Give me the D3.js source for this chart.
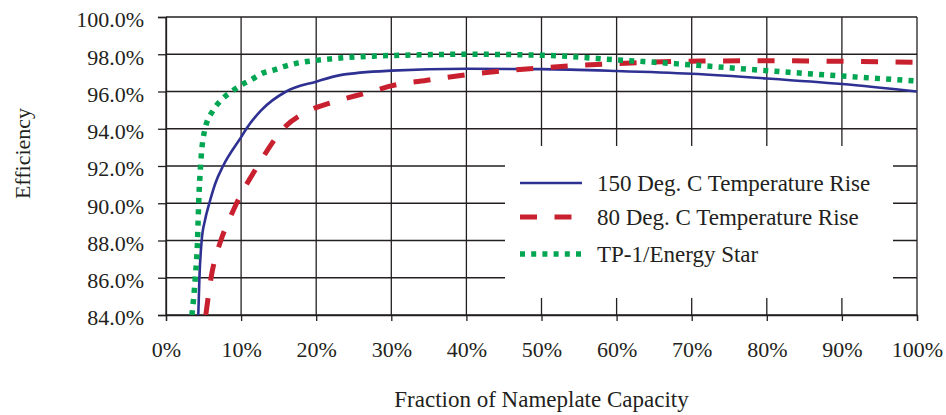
<!DOCTYPE html>
<html lang="en">
<head>
<meta charset="utf-8">
<script src="https://cdn.jsdelivr.net/npm/d3@7"></script>
<style>
  body { margin: 0; background: #fff; }
  svg { display: block; }
  text { font-family: "Liberation Serif", "Times New Roman", serif; fill: #231f20; }
</style>
</head>
<body>
<svg id="chart"></svg>
<script>
  var width = 946, height = 415;
  var margin = {top: 17, right: 29, bottom: 100, left: 166};

  // x values: fraction of nameplate capacity (%), y values: efficiency (%)
  var xTicks = [0, 10, 20, 30, 40, 50, 60, 70, 80, 90, 100];
  var yTicks = [84, 86, 88, 90, 92, 94, 96, 98, 100];
  var seriesNames = ["150 Deg. C Temperature Rise", "80 Deg. C Temperature Rise", "TP-1/Energy Star"];

  var rise150 = [
    [4.3, 84.0], [4.45, 86.0], [4.75, 88.0], [5.2, 89.1], [5.77, 90.0], [6.6, 91.1],
    [7.6, 92.0], [10, 93.55], [10.7, 94.0], [12.7, 95.0], [16, 96.0], [20, 96.53],
    [23.2, 96.88], [30, 97.12], [40, 97.22], [50, 97.2], [60, 97.1], [70, 96.95],
    [80, 96.7], [90, 96.4], [100, 96.0]
  ];
  var rise80 = [
    [5.3, 84.0], [6.0, 86.0], [7.3, 88.0], [8.4, 89.1], [9.4, 90.0], [12.2, 92.0],
    [15.6, 94.0], [19.2, 95.0], [22, 95.4], [27.4, 96.0], [30, 96.3], [35, 96.62],
    [40, 96.9], [50, 97.27], [60, 97.5], [70, 97.63], [80, 97.65], [90, 97.62], [100, 97.57]
  ];
  var tp1 = [
    [3.45, 84.0], [3.9, 86.0], [4.2, 88.0], [4.35, 90.0], [4.6, 92.0], [5.2, 94.0],
    [6.3, 95.0], [7.5, 95.6], [8.75, 96.0], [10, 96.35], [11.2, 96.6], [12.96, 97.0],
    [14.3, 97.15], [15.6, 97.33], [17.2, 97.5], [20, 97.67], [23.2, 97.8], [27.8, 97.9],
    [33.8, 97.97], [40, 98.0], [50, 97.95], [60, 97.7], [70, 97.43], [80, 97.12],
    [90, 96.83], [100, 96.56]
  ];

  var styles = [
    {color: '#2e3192', width: 2.6, dash: null},
    {color: '#c9202f', width: 5, dash: '17,17.5'},
    {color: '#00a651', width: 5.5, dash: '5,6.2'}
  ];
  var allSeries = [rise150, rise80, tp1];

  var svg = d3.select('#chart').attr('width', width).attr('height', height);

  var x = d3.scaleLinear().domain([0, 100]).range([margin.left, width - margin.right]);
  var y = d3.scaleLinear().domain([84, 100]).range([315, margin.top]);

  var gridColor = '#231f20';

  // gridlines
  svg.append('g').selectAll('line.h')
    .data(yTicks).enter()
    .append('line')
    .attr('x1', x(0)).attr('x2', x(100))
    .attr('y1', function(d){ return y(d); })
    .attr('y2', function(d){ return y(d); })
    .attr('stroke', gridColor).attr('stroke-width', 1.3);

  svg.append('g').selectAll('line.v')
    .data(xTicks).enter()
    .append('line')
    .attr('x1', function(d){ return x(d); })
    .attr('x2', function(d){ return x(d); })
    .attr('y1', y(100)).attr('y2', y(84))
    .attr('stroke', gridColor).attr('stroke-width', 1.3);

  // axes
  var yAxis = svg.append('g')
    .attr('transform', 'translate(' + x(0) + ',0)')
    .call(d3.axisLeft(y).tickValues(yTicks).tickSize(8).tickPadding(14)
      .tickFormat(function(d){ return d.toFixed(1) + '%'; }));
  yAxis.selectAll('text').attr('dy', '0.45em');

  var xAxis = svg.append('g')
    .attr('transform', 'translate(0,' + y(84) + ')')
    .call(d3.axisBottom(x).tickValues(xTicks).tickSize(6).tickPadding(20)
      .tickFormat(function(d){ return d + '%'; }));

  svg.selectAll('.domain').attr('stroke', gridColor).attr('stroke-width', 1.3);
  svg.selectAll('.tick line').attr('stroke', gridColor).attr('stroke-width', 1.3);
  svg.selectAll('.tick text')
    .style('font-family', '"Liberation Serif", "Times New Roman", serif')
    .style('font-size', '22px').attr('fill', '#231f20');

  // legend box (white, covers gridlines)
  var legend = svg.append('g');
  legend.append('rect')
    .attr('x', 505).attr('y', 146)
    .attr('width', 388).attr('height', 152)
    .attr('fill', '#fff');

  // curves
  svg.append('clipPath').attr('id', 'clip')
    .append('rect')
    .attr('x', x(0)).attr('y', y(100) - 10)
    .attr('width', x(100) - x(0) + 10).attr('height', y(84) - y(100) + 10);

  var line = d3.line()
    .x(function(d){ return x(d[0]); })
    .y(function(d){ return y(d[1]); })
    .curve(d3.curveMonotoneX);

  svg.append('g').attr('clip-path', 'url(#clip)')
    .selectAll('path')
    .data(allSeries).enter()
    .append('path')
    .attr('d', line)
    .attr('fill', 'none')
    .attr('stroke', function(d, i){ return styles[i].color; })
    .attr('stroke-width', function(d, i){ return styles[i].width; })
    .attr('stroke-dasharray', function(d, i){ return styles[i].dash; });

  var rows = legend.selectAll('g.row')
    .data(seriesNames).enter()
    .append('g')
    .attr('transform', function(d, i){ return 'translate(0,' + [183, 217, 254][i] + ')'; });

  rows.append('line')
    .attr('x1', 520).attr('x2', 582)
    .attr('y1', 0).attr('y2', 0)
    .attr('stroke', function(d, i){ return styles[i].color; })
    .attr('stroke-width', function(d, i){ return styles[i].width; })
    .attr('stroke-dasharray', function(d, i){ return styles[i].dash; });

  rows.append('text')
    .attr('x', 597).attr('y', 0).attr('dy', '0.35em')
    .style('font-size', '23px')
    .text(function(d){ return d; });

  // axis titles
  svg.append('text')
    .attr('x', (x(0) + x(100)) / 2).attr('y', 407)
    .attr('text-anchor', 'middle')
    .style('font-size', '23px')
    .text('Fraction of Nameplate Capacity');

  svg.append('text')
    .attr('transform', 'translate(30,153.5) rotate(-90)')
    .attr('text-anchor', 'middle')
    .style('font-size', '22px')
    .text('Efficiency');
</script>
</body>
</html>
